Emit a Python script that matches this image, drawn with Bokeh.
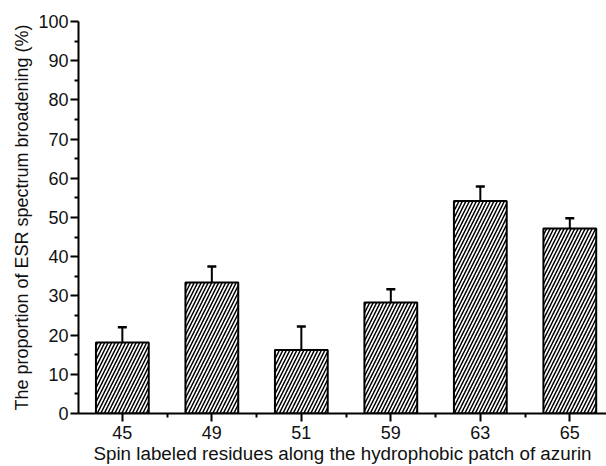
from bokeh.plotting import figure
from bokeh.models import Range1d, FixedTicker, Whisker, TeeHead, ColumnDataSource
from bokeh.embed import file_html
from bokeh.resources import INLINE

residues = ["45", "49", "51", "59", "63", "65"]
values = [18.1, 33.4, 16.2, 28.3, 54.2, 47.2]
errors = [3.9, 4.1, 6.0, 3.4, 3.7, 2.6]
y_ticks = [0, 10, 20, 30, 40, 50, 60, 70, 80, 90, 100]

xs = list(range(len(residues)))
upper = [v + e for v, e in zip(values, errors)]
src = ColumnDataSource(dict(x=xs, top=values, upper=upper))

FONT = "Liberation Sans"

p = figure(width=606, height=466, output_backend="svg", toolbar_location=None,
           x_range=Range1d(-0.49, 5.41), y_range=Range1d(0, 100),
           min_border_left=78, min_border_top=21, min_border_bottom=53, min_border_right=0)
p.outline_line_color = None
p.xgrid.visible = False
p.ygrid.visible = False

p.vbar(x="x", top="top", width=0.59, bottom=0, source=src,
       fill_color="white", line_color="black", line_width=2,
       hatch_pattern="/", hatch_color="black", hatch_scale=7, hatch_weight=1.5)

w = Whisker(base="x", lower="top", upper="upper", source=src, dimension="height",
            line_color="black", line_width=2,
            upper_head=TeeHead(size=9, line_color="black", line_width=2.5),
            lower_head=None)
p.add_layout(w)

# axes
p.xaxis.ticker = FixedTicker(ticks=xs, minor_ticks=[i + 0.5 for i in range(-1, len(xs))])
p.xaxis.major_label_overrides = {i: r for i, r in enumerate(residues)}
p.yaxis.ticker = FixedTicker(ticks=y_ticks, minor_ticks=[t + 5 for t in y_ticks[:-1]])

for ax in (p.xaxis[0], p.yaxis[0]):
    ax.axis_line_width = 2
    ax.axis_line_color = "black"
    ax.major_tick_line_width = 2
    ax.minor_tick_line_width = 2
    ax.major_tick_line_color = "black"
    ax.minor_tick_line_color = "black"
    ax.major_tick_out = 8
    ax.major_tick_in = 0
    ax.minor_tick_out = 4
    ax.minor_tick_in = 0
    ax.major_label_text_font = FONT
    ax.major_label_text_font_size = "18px"
    ax.major_label_text_color = "#111111"
    ax.axis_label_text_font = FONT
    ax.axis_label_text_font_style = "normal"
    ax.axis_label_text_color = "#111111"

p.xaxis.axis_label_text_font_size = "18.8px"
p.yaxis.axis_label_text_font_size = "18px"
p.xaxis.axis_label = "Spin labeled residues along the hydrophobic patch of azurin"
p.yaxis.axis_label = "The proportion of ESR spectrum broadening (%)"
p.xaxis.major_label_standoff = 4
p.xaxis.axis_label_standoff = 1
p.yaxis.major_label_standoff = 2
p.yaxis.axis_label_standoff = 3

open("out.html", "w").write(file_html(p, INLINE))
